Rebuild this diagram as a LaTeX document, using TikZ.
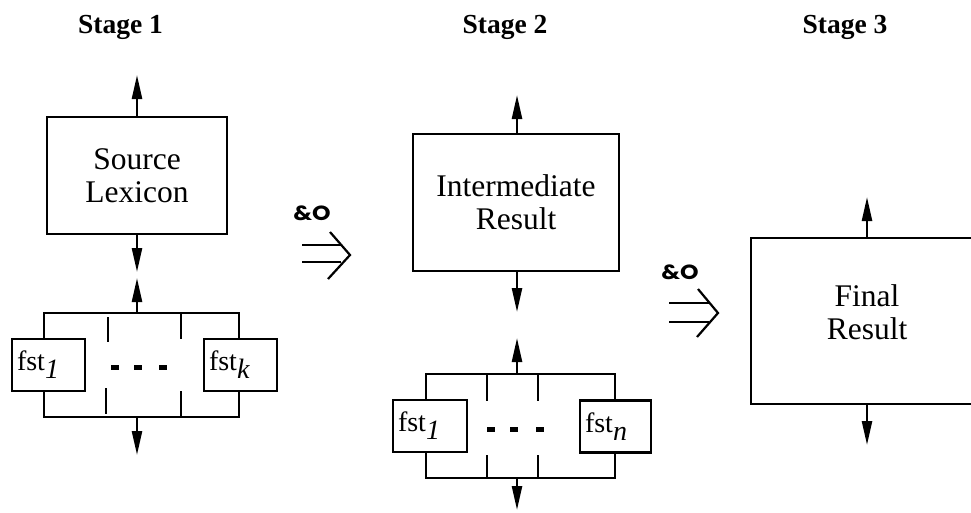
\documentclass[tikz,border=0pt]{standalone}
\usepackage{fontspec}
\setmainfont{Liberation Serif}
\newfontfamily\geo{Poppins}
\usetikzlibrary{arrows.meta}
\begin{document}
\begin{tikzpicture}[x=1pt,y=-1pt,
  bigbox/.style={draw,line width=2.8pt,inner sep=0pt,align=center,
    font=\fontsize{31.5}{33}\selectfont},
  fstbox/.style={draw,line width=2.8pt,minimum height=52pt,inner ysep=0pt,
    inner xsep=5pt,align=left,font=\fontsize{28}{30}\selectfont},
  stagelbl/.style={anchor=base,font=\bfseries\fontsize{27.5}{30}\selectfont},
  brk/.style={line width=2.8pt},
  arr/.style={line width=2.4pt,-{Triangle[length=24pt,width=10pt]}},
  impl/.style={line width=2.2pt},
  oplbl/.style={font=\geo\bfseries\fontsize{20.5}{22}\selectfont,xscale=1.15},
  dash box/.style={fill=black}
]
\useasboundingbox (0,0) rectangle (971,512);

% stage labels
\node[stagelbl] (s1) at (120.5,33) {Stage 1};
\node[stagelbl] (s2) at (505,33) {Stage 2};
\node[stagelbl] (s3) at (845,33) {Stage 3};

% main boxes
\node[bigbox,minimum width=180pt,minimum height=117pt] (src) at (137,175.5) {Source\\Lexicon};
\node[bigbox,minimum width=206pt,minimum height=137pt] (mid) at (516,202.5) {Intermediate\\Result};
\node[bigbox,minimum width=232pt,minimum height=166pt] (fin) at (867,321) {};
\node[font=\fontsize{31.5}{33}\selectfont,align=center] (fintxt) at (867,312.5) {Final\\Result};

% arrow tips
\coordinate (t1up) at (137,75);
\coordinate (t1dn) at (137,272);
\coordinate (t2up) at (517,95);
\coordinate (t2dn) at (517,312);
\coordinate (t3up) at (867,197);
\coordinate (t3dn) at (867,445);
\coordinate (b1up) at (137,278);
\coordinate (b1dn) at (137,455);
\coordinate (b2up) at (517,338);
\coordinate (b2dn) at (517,510);

\draw[arr] (src.north -| t1up) -- (t1up);
\draw[arr] (src.south -| t1dn) -- (t1dn);
\draw[arr] (mid.north -| t2up) -- (t2up);
\draw[arr] (mid.south -| t2dn) -- (t2dn);
\draw[arr] (fin.north) -- (t3up);
\draw[arr] (fin.south) -- (t3dn);

% ---- stage 1 fst bank
\node[fstbox,text width=63pt] (f1a) at (48.5,365) {fst\raisebox{-8pt}{\itshape 1}};
\node[fstbox,text width=63pt] (f1k) at (240.5,365) {fst\raisebox{-8pt}{\itshape k}};
\coordinate (b1tl) at (44,313);
\coordinate (b1tr) at (239,313);
\coordinate (b1bl) at (44,417);
\coordinate (b1br) at (239,417);
\draw[brk] (f1a.north -| b1tl) -- (b1tl) -- (b1tr) -- (f1k.north -| b1tr);
\draw[brk] (f1a.south -| b1bl) -- (b1bl) -- (b1br) -- (f1k.south -| b1br);
\draw[brk] (108,317) -- (108,342);
\draw[brk] (106,388) -- (106,414);
\draw[brk] (181,313) -- (181,339);
\draw[brk] (181,391) -- (181,417);
\foreach \x in {115,138,163} \fill[dash box] (\x-4,365) rectangle (\x+4,369.5);
\draw[arr] (b1tl -| b1up) -- (b1up);
\draw[arr] (b1bl -| b1dn) -- (b1dn);

% ---- stage 2 fst bank
\node[fstbox,text width=64pt] (f2a) at (430,426) {fst\raisebox{-8pt}{\itshape 1}};
\node[fstbox,text width=61pt] (f2n) at (615.5,426.5) {fst\raisebox{-8pt}{\itshape n}};
\coordinate (b2tl) at (426,374);
\coordinate (b2tr) at (615,374);
\coordinate (b2bl) at (426,478);
\coordinate (b2br) at (615,478);
\draw[brk] (f2a.north -| b2tl) -- (b2tl) -- (b2tr) -- (f2n.north -| b2tr);
\draw[brk] (f2a.south -| b2bl) -- (b2bl) -- (b2br) -- (f2n.south -| b2br);
\draw[brk] (487,374) -- (487,401);
\draw[brk] (487,455) -- (487,478);
\draw[brk] (538,374) -- (538,401);
\draw[brk] (538,455) -- (538,478);
\foreach \x in {491,514,540} \fill[dash box] (\x-4,427) rectangle (\x+4,431.5);
\draw[arr] (b2tl -| b2up) -- (b2up);
\draw[arr] (b2bl -| b2dn) -- (b2dn);

% ---- composition operators
\node[oplbl] (op1) at (312,213) {\&O};
\draw[impl] (302,245) -- (341,245);
\draw[impl] (302,262) -- (341,262);
\draw[impl] (330,232) -- (350,255) -- (328,279);

\node[oplbl] (op2) at (680,272) {\&O};
\draw[impl] (669,303) -- (709,303);
\draw[impl] (669,322) -- (709,322);
\draw[impl] (698,289) -- (718,313) -- (697,337);
\end{tikzpicture}
\end{document}
